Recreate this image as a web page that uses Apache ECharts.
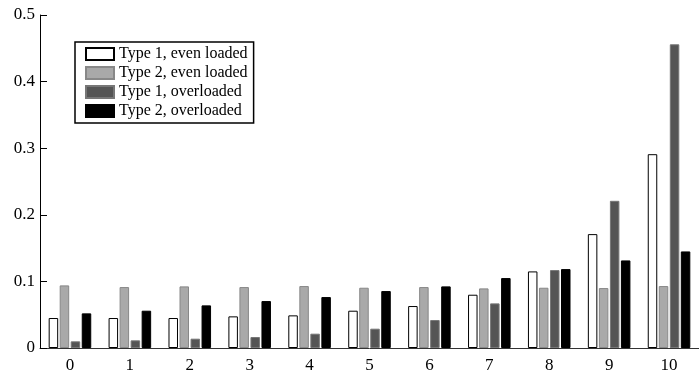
<!DOCTYPE html>
<html>
<head>
<meta charset="utf-8">
<script src="https://cdn.jsdelivr.net/npm/echarts@6/dist/echarts.min.js"></script>
<style>html,body{margin:0;padding:0;background:#fff;}#c{width:699px;height:374px;}</style>
</head>
<body>
<div id="c"></div>
<script>
var categories = ['0','1','2','3','4','5','6','7','8','9','10'];
var type1Even = [0.045, 0.045, 0.045, 0.0475, 0.049, 0.056, 0.063, 0.080, 0.115, 0.171, 0.291];
var type2Even = [0.094, 0.0915, 0.0925, 0.0915, 0.093, 0.0905, 0.0915, 0.0895, 0.0905, 0.090, 0.093];
var type1Over = [0.010, 0.0115, 0.014, 0.0165, 0.0215, 0.029, 0.042, 0.067, 0.117, 0.221, 0.456];
var type2Over = [0.052, 0.056, 0.064, 0.0705, 0.0765, 0.0855, 0.0925, 0.105, 0.1185, 0.1315, 0.145];
var seriesNames = ['Type 1, even loaded','Type 2, even loaded','Type 1, overloaded','Type 2, overloaded'];
var yTicks = [0, 0.1, 0.2, 0.3, 0.4, 0.5];

var font = 'Liberation Serif';
var styles = [
  {color:'#ffffff', borderColor:'#000000', borderWidth:1},
  {color:'#a9a9a9', borderColor:'#888888', borderWidth:1},
  {color:'#555555', borderColor:'#777777', borderWidth:1},
  {color:'#000000', borderColor:'#000000', borderWidth:1}
];
var datas = [type1Even, type2Even, type1Over, type2Over];
var chart = echarts.init(document.getElementById('c'), null, {renderer:'canvas'});
chart.setOption({
  animation:false,
  backgroundColor:'#ffffff',
  textStyle:{fontFamily:font, color:'#000'},
  grid:{left:40, top:15, bottom:26, right:-8, containLabel:false},
  legend:{
    left:75, top:42, orient:'vertical',
    data: seriesNames,
    icon:'rect',
    itemWidth:28, itemHeight:12, itemGap:3,
    padding:[4,6,4,10],
    borderColor:'#000', borderWidth:1.5,
    backgroundColor:'#fff',
    textStyle:{fontFamily:font, fontSize:16, lineHeight:16, color:'#000'}
  },
  xAxis:{
    type:'category', data:categories,
    axisLine:{show:true, lineStyle:{color:'#333', width:1}},
    axisTick:{show:false},
    axisLabel:{fontFamily:font, fontSize:17, color:'#000', margin:9},
    splitLine:{show:false}
  },
  yAxis:{
    type:'value', min:yTicks[0], max:yTicks[yTicks.length-1], interval:0.1,
    axisLine:{show:true, lineStyle:{color:'#000', width:1}},
    axisTick:{show:true, inside:true, length:7, lineStyle:{color:'#000'}},
    axisLabel:{fontFamily:font, fontSize:17, color:'#000', margin:5},
    splitLine:{show:false}
  },
  series: datas.map(function(d,i){
    return {
      name:seriesNames[i], type:'bar', data:d,
      barWidth:9.5, barGap:'16%',
      itemStyle:styles[i]
    };
  })
});
</script>
</body>
</html>
